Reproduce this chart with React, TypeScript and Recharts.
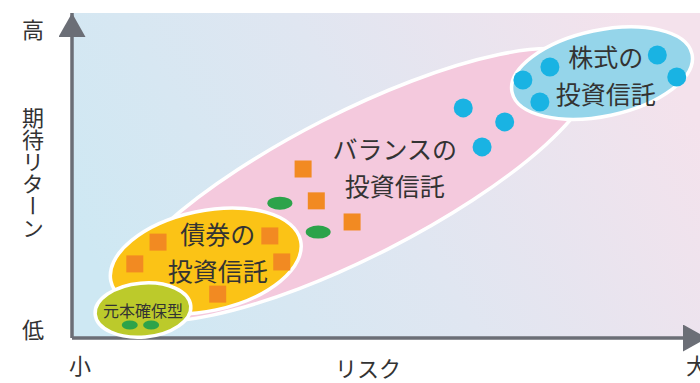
import { CartesianGrid, Label, Scatter, ScatterChart, XAxis, YAxis } from 'recharts'

// risk (x) and expected return (y), both on a 0-100 scale
const riskTicks = [0, 100]
const riskTickLabels: Record<number, string> = { 0: '小', 100: '大' }
const returnTicks = [0, 100]
const returnTickLabels: Record<number, string> = { 0: '低', 100: '高' }
const riskTitle = 'リスク'
const returnTitle = '期待リターン'

// fund groups, drawn back to front
const groups = [
  { name: 'balance', x: 45.1, y: 47.1 },
  { name: 'bond', x: 21.3, y: 23.7 },
  { name: 'principal', x: 11.3, y: 8.6 },
  { name: 'equity', x: 84.4, y: 81.5 },
]

const groupLabels = [
  { name: 'balance', x: 51.4, y: 52.8, lines: ['バランスの', '投資信託'] },
  { name: 'bond', x: 23.2, y: 26.5, lines: ['債券の', '投資信託'] },
  { name: 'principal', x: 11.3, y: 8.6, lines: ['元本確保型'] },
  { name: 'equity', x: 85.0, y: 81.1, lines: ['株式の', '投資信託'] },
]

const equityFunds = [
  { x: 62.3, y: 70.8 },
  { x: 65.3, y: 58.8 },
  { x: 68.9, y: 66.5 },
  { x: 71.8, y: 79.4 },
  { x: 76.1, y: 83.4 },
  { x: 74.5, y: 72.6 },
  { x: 93.2, y: 87.1 },
  { x: 96.3, y: 80.3 },
]

const bondFunds = [
  { x: 36.8, y: 52.0 },
  { x: 38.9, y: 42.2 },
  { x: 44.6, y: 35.7 },
  { x: 31.5, y: 31.4 },
  { x: 13.7, y: 29.5 },
  { x: 10.0, y: 22.8 },
  { x: 33.4, y: 23.4 },
  { x: 23.2, y: 13.5 },
]

const balanceGreen = [
  { x: 33.1, y: 41.5 },
  { x: 39.2, y: 32.6 },
]

const principalGreen = [
  { x: 9.2, y: 4.0 },
  { x: 12.6, y: 4.0 },
]

const groupStyle: Record<string, { rx: number; ry: number; angle: number; fill: string }> = {
  balance: { rx: 265, ry: 72, angle: -27, fill: '#f4c9dd' },
  bond: { rx: 97, ry: 50, angle: -12, fill: '#fbc316' },
  principal: { rx: 48, ry: 27, angle: -5, fill: '#bcca2b' },
  equity: { rx: 92, ry: 43, angle: -12, fill: '#95d5ea' },
}

const FONT = '"Noto Sans CJK JP", "Noto Sans", sans-serif'
const TEXT = '#333333'
const AXIS = '#6b6e76'

function GroupShape(props: any) {
  const { cx, cy, payload } = props
  const s = groupStyle[payload.name]
  return (
    <ellipse
      cx={cx}
      cy={cy}
      rx={s.rx}
      ry={s.ry}
      transform={`rotate(${s.angle} ${cx} ${cy})`}
      fill={s.fill}
      stroke="#ffffff"
      strokeWidth={3.5}
    />
  )
}

function LabelShape(props: any) {
  const { cx, cy, payload } = props
  const small = payload.lines.length === 1
  const size = small ? 16 : 25
  const gap = 37
  const top = cy - ((payload.lines.length - 1) * gap) / 2
  return (
    <g>
      {payload.lines.map((line: string, i: number) => (
        <text
          key={line}
          x={cx}
          y={top + i * gap}
          textAnchor="middle"
          dominantBaseline="central"
          fontSize={size}
          fontFamily={FONT}
          fill={TEXT}
        >
          {line}
        </text>
      ))}
    </g>
  )
}

const Square = ({ cx, cy }: any) => (
  <rect x={cx - 8.5} y={cy - 8.5} width={17} height={17} fill="#f28a22" />
)
const Dot = ({ cx, cy }: any) => <circle cx={cx} cy={cy} r={9.5} fill="#19b3e3" />
const BigOval = ({ cx, cy }: any) => <ellipse cx={cx} cy={cy} rx={12.5} ry={6.5} fill="#2ca34a" />
const SmallOval = ({ cx, cy }: any) => <ellipse cx={cx} cy={cy} rx={8} ry={4.5} fill="#2ca34a" />

function RiskTick({ x, y, payload }: any) {
  const v = payload.value
  return (
    <text
      x={v === 0 ? x + 8 : x - 3}
      y={y + 26}
      textAnchor="middle"
      dominantBaseline="central"
      fontSize={22}
      fontFamily={FONT}
      fill={TEXT}
    >
      {riskTickLabels[v]}
    </text>
  )
}

function ReturnTick({ x, y, payload }: any) {
  const v = payload.value
  return (
    <text
      x={x - 39}
      y={v === 100 ? y + 15 : y - 10}
      textAnchor="middle"
      dominantBaseline="central"
      fontSize={22}
      fontFamily={FONT}
      fill={TEXT}
    >
      {returnTickLabels[v]}
    </text>
  )
}

export default function App() {
  return (
    <div style={{ width: 700, height: 383, background: '#ffffff' }}>
      <style>{'body{margin:0}'}</style>
      <ScatterChart width={700} height={383} margin={{ top: 13, right: 0, bottom: 0, left: 0 }}>
        <defs>
          <linearGradient id="bg" x1="0" y1="0.65" x2="1" y2="0.35">
            <stop offset="0%" stopColor="#cee8f3" />
            <stop offset="50%" stopColor="#e0e6f1" />
            <stop offset="100%" stopColor="#f4e2ec" />
          </linearGradient>
          <marker id="arrowUp" viewBox="0 0 24 27" markerUnits="userSpaceOnUse" markerWidth={24} markerHeight={27} refX={24} refY={13.5} orient="auto-start-reverse">
            <path d="M0,0 L24,13.5 L0,27 Z" fill={AXIS} />
          </marker>
          <marker id="arrowRight" viewBox="0 0 24 27" markerUnits="userSpaceOnUse" markerWidth={24} markerHeight={27} refX={17} refY={13.5} orient="auto">
            <path d="M0,0 L24,13.5 L0,27 Z" fill={AXIS} />
          </marker>
        </defs>
        <CartesianGrid horizontal={false} vertical={false} fill="url(#bg)" fillOpacity={1} stroke="none" />
        <XAxis
          type="number"
          dataKey="x"
          domain={[0, 100]}
          ticks={riskTicks}
          height={45}
          tickSize={0}
          tickMargin={0}
          tickLine={false}
          axisLine={{ stroke: AXIS, strokeWidth: 3.5, markerEnd: 'url(#arrowRight)' }}
          tick={<RiskTick />}
          interval={0}
        >
          <Label
            content={({ viewBox }: any) => (
              <text
                x={viewBox.x + viewBox.width / 2 - 18}
                y={viewBox.y + 29}
                textAnchor="middle"
                dominantBaseline="central"
                fontSize={22}
                fontFamily={FONT}
                fill={TEXT}
              >
                {riskTitle}
              </text>
            )}
          />
        </XAxis>
        <YAxis
          type="number"
          dataKey="y"
          domain={[0, 100]}
          ticks={returnTicks}
          width={72}
          tickSize={0}
          tickMargin={0}
          tickLine={false}
          axisLine={{ stroke: AXIS, strokeWidth: 3.5, markerStart: 'url(#arrowUp)' }}
          tick={<ReturnTick />}
          interval={0}
        >
          <Label
            content={({ viewBox }: any) => (
              <text
                x={viewBox.x + 33}
                y={viewBox.y + viewBox.height / 2 - 3}
                textAnchor="middle"
                fontSize={22}
                fontFamily={FONT}
                fill={TEXT}
                style={{ writingMode: 'vertical-rl' }}
              >
                {returnTitle}
              </text>
            )}
          />
        </YAxis>
        <Scatter data={groups} shape={<GroupShape />} isAnimationActive={false} />
        <Scatter data={groupLabels} shape={<LabelShape />} isAnimationActive={false} />
        <Scatter data={balanceGreen} shape={<BigOval />} isAnimationActive={false} />
        <Scatter data={principalGreen} shape={<SmallOval />} isAnimationActive={false} />
        <Scatter data={bondFunds} shape={<Square />} isAnimationActive={false} />
        <Scatter data={equityFunds} shape={<Dot />} isAnimationActive={false} />
      </ScatterChart>
    </div>
  )
}
